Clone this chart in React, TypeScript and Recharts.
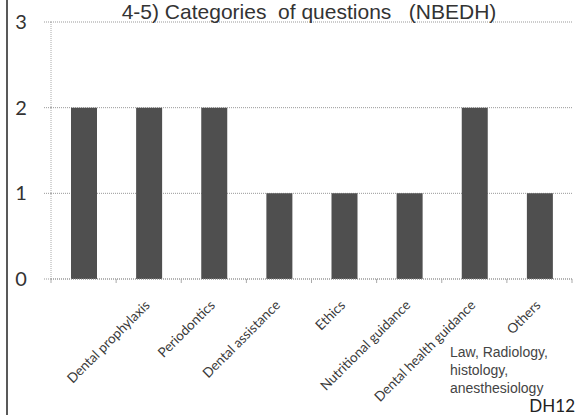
import { BarChart, Bar, XAxis, YAxis, CartesianGrid } from 'recharts';

// categories (first one has no visible label in the reference)
const categories = [
  '',
  'Dental prophylaxis',
  'Periodontics',
  'Dental assistance',
  'Ethics',
  'Nutritional guidance',
  'Dental health guidance',
  'Others',
];
const counts = [2, 2, 2, 1, 1, 1, 2, 1];
const yTicks = [0, 1, 2, 3];
const title = '4-5) Categories  of questions   (NBEDH)';
const noteLines = ['Law, Radiology,', 'histology,', 'anesthesiology'];
const footer = 'DH12';

const W = 577;
const H = 415;
const LEFT = 51;
const RIGHT = 5;
const BAND = (W - LEFT - RIGHT) / categories.length;

const data = categories.map((name, i) => ({ name, value: counts[i] }));

const XTick = (props: any) => {
  const { x, y, payload, index } = props;
  return (
    <g>
      <line x1={x - BAND / 2} x2={x - BAND / 2} y1={y} y2={y + 4} stroke="#aaa" />
      {index === categories.length - 1 && (
        <line x1={x + BAND / 2} x2={x + BAND / 2} y1={y} y2={y + 4} stroke="#aaa" />
      )}
      <text
        x={x + 2}
        y={y + 27}
        transform={`rotate(-45, ${x + 2}, ${y + 27})`}
        textAnchor="end"
        fill="#3a3a3a"
        fontSize={13.5}
        fontFamily="Lato, sans-serif"
      >
        {payload.value}
      </text>
    </g>
  );
};

const YTick = (props: any) => {
  const { y, payload } = props;
  return (
    <text x={21} y={y} dy={7} textAnchor="middle" fill="#333" fontSize={20} fontFamily="Lato, sans-serif">
      {payload.value}
    </text>
  );
};

export default function App() {
  return (
    <div style={{ position: 'absolute', left: 0, top: 0, width: W, height: H, background: '#fff' }}>
      <BarChart
        width={W}
        height={H}
        data={data}
        margin={{ top: 22, right: RIGHT, bottom: 0, left: 0 }}
      >
        <CartesianGrid vertical={false} stroke="#999" strokeDasharray="1 1" />
        <XAxis
          dataKey="name"
          interval={0}
          tickLine={false}
          tickSize={0}
          tickMargin={0}
          axisLine={{ stroke: '#999', strokeDasharray: '1 1' }}
          tick={<XTick />}
          height={136}
        />
        <YAxis
          width={LEFT}
          domain={[0, 3]}
          ticks={yTicks}
          tickSize={7}
          tickLine={{ stroke: '#999', strokeDasharray: '1 1' }}
          axisLine={{ stroke: '#aaa', strokeDasharray: '1 1' }}
          tick={<YTick />}
        />
        <Bar dataKey="value" fill="#4f4f4f" barSize={26} isAnimationActive={false} />
      </BarChart>
      <svg
        width={W}
        height={H}
        style={{ position: 'absolute', left: 0, top: 0, pointerEvents: 'none' }}
      >
        <line x1={7} x2={7} y1={0} y2={H} stroke="#222" strokeWidth={1.5} />
        <text
          x={309}
          y={19}
          textAnchor="middle"
          fill="#333"
          fontSize={21}
          fontFamily="'Liberation Sans', Arial, sans-serif"
          style={{ whiteSpace: 'pre' }}
        >
          {title}
        </text>
        {noteLines.map((line, i) => (
          <text
            key={line}
            x={450}
            y={357 + i * 18}
            fill="#444"
            fontSize={14}
            fontFamily="'Liberation Sans', Arial, sans-serif"
          >
            {line}
          </text>
        ))}
        <text
          x={575}
          y={412}
          textAnchor="end"
          fill="#222"
          fontSize={17}
          fontFamily="Lato, sans-serif"
        >
          {footer}
        </text>
      </svg>
    </div>
  );
}
